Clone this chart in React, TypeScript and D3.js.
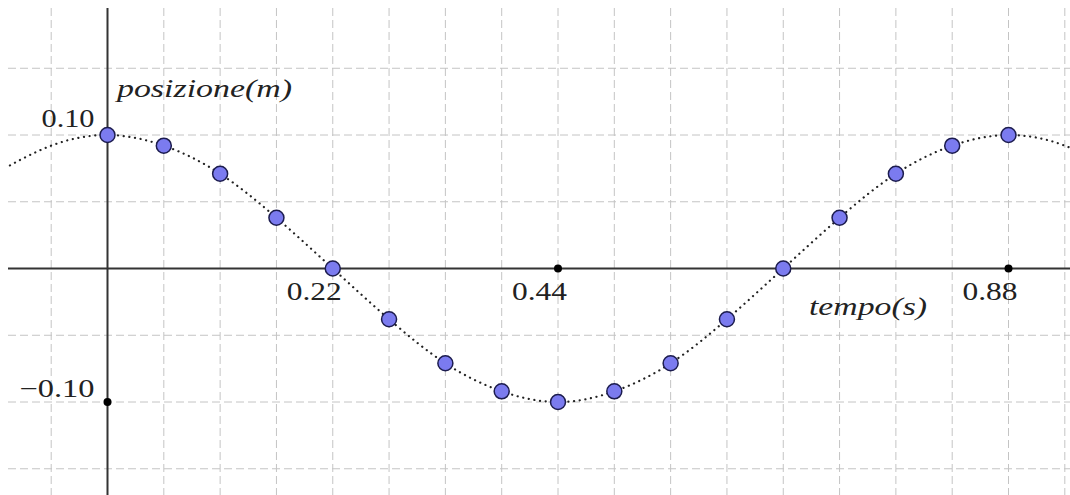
import React from "react";
import * as d3 from "d3";

// Measured samples: time (s) and position (m)
const timeS = [0, 0.055, 0.11, 0.165, 0.22, 0.275, 0.33, 0.385, 0.44, 0.495, 0.55, 0.605, 0.66, 0.715, 0.77, 0.825, 0.88];
const posM = [0.1, 0.092, 0.071, 0.038, 0, -0.038, -0.071, -0.092, -0.1, -0.092, -0.071, -0.038, 0, 0.038, 0.071, 0.092, 0.1];

const modelT = [-0.11, -0.055, 0, 0.055, 0.11, 0.165, 0.22, 0.275, 0.33, 0.385, 0.44, 0.495, 0.55, 0.605, 0.66, 0.715, 0.77, 0.825, 0.88, 0.935, 0.99];
const modelY = [0.071, 0.092, 0.1, 0.092, 0.071, 0.038, 0, -0.038, -0.071, -0.092, -0.1, -0.092, -0.071, -0.038, 0, 0.038, 0.071, 0.092, 0.1, 0.092, 0.071];

// Grid
const gridT = [-0.055, 0, 0.055, 0.11, 0.165, 0.22, 0.275, 0.33, 0.385, 0.44, 0.495, 0.55, 0.605, 0.66, 0.715, 0.77, 0.825, 0.88, 0.935];
const gridY = [-0.15, -0.1, -0.05, 0, 0.05, 0.1, 0.15];

// Tick labels
const xTicks = [0.22, 0.44, 0.88];
const xTickLabels = ["0.22", "0.44", "0.88"];
const yTicks = [0.1, -0.1];
const yTickLabels = ["0.10", "\u22120.10"];
const tickDotsX = [0.44, 0.88];
const tickDotsY = [-0.1];

const W = 1070;
const H = 495;
const L = 8, T = 8, R = 1070, B = 495;

export default function App() {
  const x = d3.scaleLinear().domain([0, 0.88]).range([107.5, 1008.5]);
  const y = d3.scaleLinear().domain([-0.1, 0.1]).range([402, 135]);

  const line = d3
    .line<number>()
    .x((_, i) => x(modelT[i]))
    .y((d) => y(d))
    .curve(d3.curveNatural);

  const font = "'Liberation Serif', 'DejaVu Serif', serif";
  const txt = "#222";

  return (
    <svg
      width={W}
      height={H}
      style={{ position: "fixed", left: 0, top: 0, background: "#fff" }}
    >
      <defs>
        <clipPath id="plot">
          <rect x={L} y={T} width={R - L} height={B - T} />
        </clipPath>
      </defs>
      <rect x={0} y={0} width={W} height={H} fill="#fff" />
      <g clipPath="url(#plot)">
        {gridT.map((t) => (
          <line
            key={"gx" + t}
            x1={x(t)}
            x2={x(t)}
            y1={T}
            y2={B}
            stroke="#c4c4c4"
            strokeWidth={1}
            strokeDasharray="8 4"
          />
        ))}
        {gridY.map((v) => (
          <line
            key={"gy" + v}
            x1={L}
            x2={R}
            y1={y(v)}
            y2={y(v)}
            stroke="#c4c4c4"
            strokeWidth={1}
            strokeDasharray="8 4"
          />
        ))}
        {/* axes */}
        <line x1={L} x2={R} y1={y(0)} y2={y(0)} stroke="#333" strokeWidth={2} />
        <line x1={x(0)} x2={x(0)} y1={T} y2={B} stroke="#333" strokeWidth={2} />
        {/* model curve */}
        <path
          d={line(modelY) || ""}
          fill="none"
          stroke="#222"
          strokeWidth={2.2}
          strokeDasharray="0.1 5.6"
          strokeLinecap="round"
        />
        {tickDotsX.map((t) => (
          <circle key={"dx" + t} cx={x(t)} cy={y(0)} r={4} fill="#000" />
        ))}
        {tickDotsY.map((v) => (
          <circle key={"dy" + v} cx={x(0)} cy={y(v)} r={4} fill="#000" />
        ))}
        {timeS.map((t, i) => (
          <circle
            key={"p" + i}
            cx={x(t)}
            cy={y(posM[i])}
            r={7.5}
            fill="#7b7bef"
            stroke="#1c1c4e"
            strokeWidth={1.5}
          />
        ))}
      </g>
      {xTicks.map((t, i) => (
        <text
          key={"xl" + t}
          x={x(t) + 9}
          y={300}
          textAnchor="end"
          fontFamily={font}
          fontSize={25}
          fill={txt}
          textLength={55}
          lengthAdjust="spacingAndGlyphs"
        >
          {xTickLabels[i]}
        </text>
      ))}
      {yTicks.map((v, i) => (
        <text
          key={"yl" + v}
          x={x(0) - 13}
          y={v > 0 ? 127 : 397}
          textAnchor="end"
          fontFamily={font}
          fontSize={25}
          fill={txt}
          textLength={i === 0 ? 53 : 75}
          lengthAdjust="spacingAndGlyphs"
        >
          {yTickLabels[i]}
        </text>
      ))}
      <text
        x={117}
        y={97}
        fontFamily={font}
        fontStyle="italic"
        fontSize={25}
        fill={txt}
        textLength={175}
        lengthAdjust="spacingAndGlyphs"
      >
        posizione(m)
      </text>
      <text
        x={809}
        y={315}
        fontFamily={font}
        fontStyle="italic"
        fontSize={25}
        fill={txt}
        textLength={118}
        lengthAdjust="spacingAndGlyphs"
      >
        tempo(s)
      </text>
    </svg>
  );
}
